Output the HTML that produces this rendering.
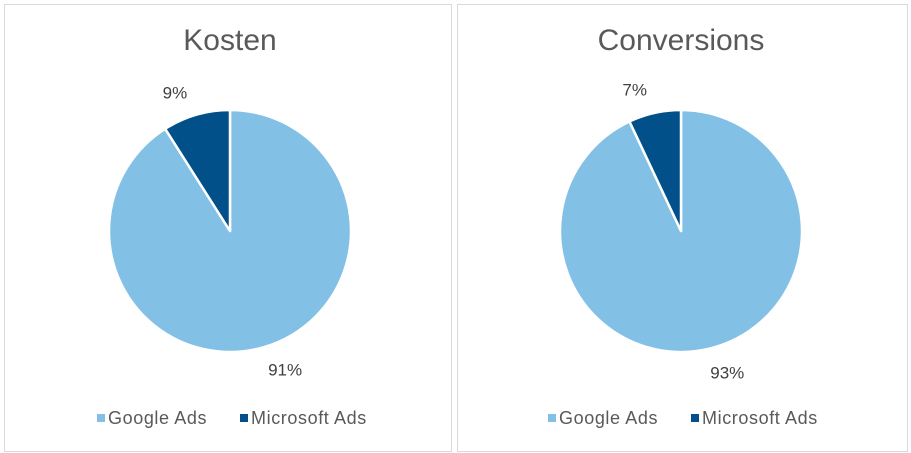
<!DOCTYPE html>
<html><head><meta charset="utf-8"><style>
body{margin:0;background:#fff;font-family:"Liberation Sans",Arial,sans-serif;}
svg{display:block}
</style></head><body>
<svg width="911" height="453" id="root">
<rect x="4.5" y="4.5" width="447" height="447" fill="#fff" stroke="#d9d9d9"/>
<rect x="457.5" y="4.5" width="450" height="447" fill="#fff" stroke="#d9d9d9"/>
</svg>
<script>
const categories=["Google Ads","Microsoft Ads"];
const kostenValues=[91,9];
const conversionsValues=[93,7];
const titles=["Kosten","Conversions"];
const colors=["#83C0E5","#01508A"];
const NS="http://www.w3.org/2000/svg";
const svg=document.getElementById('root');
function mk(t,a){const e=document.createElementNS(NS,t);for(const k in a)e.setAttribute(k,a[k]);svg.appendChild(e);return e;}
function pie(cx,title,vals,key){
  const cy=231,r=121;
  const t=mk('text',{x:cx,y:50,'text-anchor':'middle','font-size':30,fill:'#595959'});t.textContent=title;
  
  
  const tot=vals.reduce((a,b)=>a+b,0);let a0=0;
  vals.forEach((v,i)=>{
    const a1=a0+v/tot*2*Math.PI;
    const p=(a)=>[cx+r*Math.sin(a),cy-r*Math.cos(a)];
    const [x0,y0]=p(a0),[x1,y1]=p(a1);
    const path=mk('path',{d:`M${cx},${cy}L${x0},${y0}A${r},${r} 0 ${a1-a0>Math.PI?1:0} 1 ${x1},${y1}Z`,fill:colors[i],stroke:'#fff','stroke-width':2.5,'stroke-linejoin':'round'});
    
    
    const mid=(a0+a1)/2-5.5*Math.PI/180,lr=149;
    const lx=cx+lr*Math.sin(mid),ly=cy-lr*Math.cos(mid);
    const lb=mk('text',{x:lx,y:ly+6,'text-anchor':'middle','font-size':17,fill:'#404040'});lb.textContent=Math.round(v/tot*100)+'%';
    
    
    a0=a1;
  });
  const lx=[cx-133,cx+10];
  categories.forEach((c,i)=>{
    const s=mk('rect',{x:lx[i],y:414,width:8,height:8,fill:colors[i]});
    
    
    const tx=mk('text',{x:lx[i]+11,y:424,'font-size':18,'letter-spacing':'0.6',fill:'#595959'});tx.textContent=c;
    
    
  });
}
pie(230,titles[0],kostenValues,'kosten');
pie(681,titles[1],conversionsValues,'conversions');
</script>
</body></html>
